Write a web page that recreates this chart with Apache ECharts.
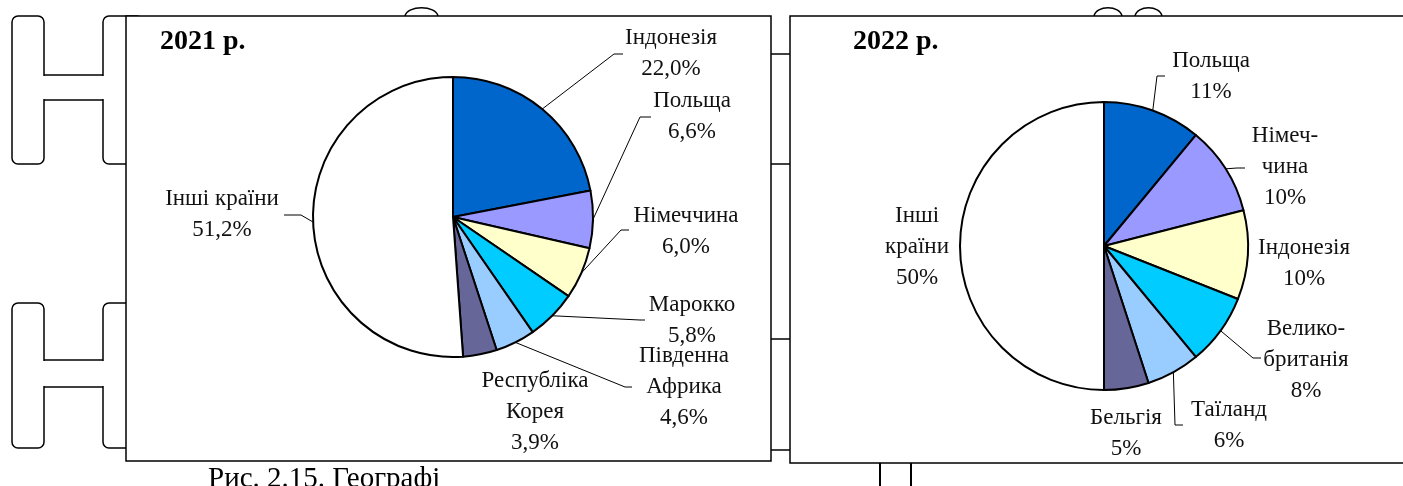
<!DOCTYPE html>
<html>
<head>
<meta charset="utf-8">
<script src="https://cdn.jsdelivr.net/npm/echarts@6/dist/echarts.min.js"></script>
<style>
  html, body { margin: 0; padding: 0; background: #fff; }
  #chart { width: 1403px; height: 486px; }
</style>
</head>
<body>
<div id="chart"></div>
<script>
// 2021 shares
const names2021 = ["Індонезія", "Польща", "Німеччина", "Марокко", "Південна\nАфрика", "Республіка\nКорея", "Інші країни"];
const values2021 = [22.0, 6.6, 6.0, 5.8, 4.6, 3.9, 51.2];

// 2022 shares
const names2022 = ["Польща", "Німеч-\nчина", "Індонезія", "Велико-\nбританія", "Таїланд", "Бельгія", "Інші\nкраїни"];
const values2022 = [11, 10, 10, 8, 6, 5, 50];

const sliceColors = ["#0066CC", "#9999FF", "#FFFFCC", "#00CCFF", "#99CCFF", "#666699", "#FFFFFF"];

// label centres and leader line (elbow, end) per slice
const labelPos2021 = [[671, 53], [692, 116], [686, 231], [692, 320], [684, 387], [535, 412], [222, 214]];
const leader2021 = [
  [[614, 54], [623, 54]],
  [[640, 117], [651, 117]],
  [[621, 230], [629, 230]],
  [[640, 320], [645, 320]],
  [[625, 387], [632, 387]],
  null,
  [[301, 215], [284, 215]],
];
const labelPos2022 = [[1211, 76], [1285, 167], [1304, 263], [1306, 360], [1229, 425], [1126, 433], [917, 247]];
const leader2022 = [
  [[1157, 76], [1165, 76]],
  [[1237, 168], [1245, 168]],
  null,
  [[1253, 358], [1261, 358]],
  [[1175, 425], [1183, 425]],
  null,
  null,
];

const chart = echarts.init(document.getElementById("chart"));

function edgePoint(values, i, cx, cy, r) {
  const total = values.reduce((a, b) => a + b, 0);
  let before = 0;
  for (let k = 0; k < i; k++) before += values[k];
  const a = ((before + values[i] / 2) / total) * Math.PI * 2;
  return [cx + r * Math.sin(a), cy - r * Math.cos(a)];
}

function makeLayout(values, pos, leaders, cx, cy, r) {
  return (params) => {
    const i = params.dataIndex;
    const out = { x: pos[i][0], y: pos[i][1], align: "center", verticalAlign: "middle" };
    if (leaders[i]) {
      const p0 = edgePoint(values, i, cx, cy, r);
      out.labelLinePoints = [p0, leaders[i][0], leaders[i][1]];
    }
    return out;
  };
}

function pieSeries(names, values, pos, leaders, cx, cy, r, fmt) {
  return {
    type: "pie",
    z: 10,
    center: [cx, cy],
    radius: r,
    startAngle: 90,
    clockwise: true,
    avoidLabelOverlap: false,
    silent: true,
    itemStyle: { borderColor: "#000", borderWidth: 2 },
    label: {
      show: true,
      position: "outside",
      formatter: fmt,
      color: "#111",
      fontFamily: "Liberation Serif",
      fontSize: 23,
      lineHeight: 31,
      align: "center",
    },
    labelLine: { show: true, length: 10, length2: 10, lineStyle: { color: "#000", width: 1 } },
    labelLayout: makeLayout(values, pos, leaders, cx, cy, r),
    data: names.map((n, i) => ({
      name: n,
      value: values[i],
      itemStyle: { color: sliceColors[i] },
      labelLine: { show: leaders[i] != null },
    })),
  };
}

const edge = { stroke: "#000", lineWidth: 1.5, fill: null };

function hShape(top, bottom, bar1, bar2) {
  return [
    { type: "rect", z: 0, z2: 1, shape: { x: 12, y: top, width: 32, height: bottom - top, r: 6 }, style: { ...edge, fill: "#fff" } },
    { type: "rect", z: 0, z2: 1, shape: { x: 103, y: top, width: 40, height: bottom - top, r: 6 }, style: { ...edge, fill: "#fff" } },
    { type: "rect", z: 0, z2: 2, shape: { x: 43, y: bar1 + 1, width: 61, height: bar2 - bar1 - 2 }, style: { fill: "#fff" } },
    { type: "line", z: 0, z2: 3, shape: { x1: 44, y1: bar1, x2: 103, y2: bar1 }, style: edge },
    { type: "line", z: 0, z2: 3, shape: { x1: 44, y1: bar2, x2: 103, y2: bar2 }, style: edge },
  ];
}

function bump(x1, x2) {
  return {
    type: "bezierCurve", z: 0,
    shape: { x1: x1, y1: 16, cpx1: x1 + 2, cpy1: 5, cpx2: x2 - 2, cpy2: 5, x2: x2, y2: 16 },
    style: edge,
  };
}

const gapLines = [54, 164, 339, 450].map((y) => ({
  type: "line", z: 0, shape: { x1: 771, y1: y, x2: 790, y2: y }, style: edge,
}));

const graphics = [
  ...hShape(16, 164, 75, 100),
  ...hShape(303, 448, 360, 387),
  bump(405, 438),
  bump(1094, 1122),
  bump(1135, 1162),
  ...gapLines,
  { type: "line", z: 0, shape: { x1: 880, y1: 463, x2: 880, y2: 490 }, style: { stroke: "#000", lineWidth: 2 } },
  { type: "line", z: 0, shape: { x1: 911, y1: 463, x2: 911, y2: 490 }, style: { stroke: "#000", lineWidth: 2 } },
  { type: "rect", z: 1, shape: { x: 126, y: 16, width: 645, height: 445 }, style: { ...edge, fill: "#fff" } },
  { type: "rect", z: 1, shape: { x: 790, y: 16, width: 640, height: 447 }, style: { ...edge, fill: "#fff" } },
  {
    type: "text", z: 3, x: 160, y: 42,
    style: { text: "2021 р.", fill: "#000", fontFamily: "Liberation Serif", fontWeight: "bold", fontSize: 28, verticalAlign: "middle" },
  },
  {
    type: "text", z: 3, x: 853, y: 42,
    style: { text: "2022 р.", fill: "#000", fontFamily: "Liberation Serif", fontWeight: "bold", fontSize: 28, verticalAlign: "middle" },
  },
  {
    type: "text", z: 3, x: 208, y: 479,
    style: { text: "Рис. 2.15. Географі", fill: "#000", fontFamily: "Liberation Serif", fontSize: 29, verticalAlign: "middle" },
  },
];

chart.setOption({
  animation: false,
  backgroundColor: "#fff",
  graphic: graphics,
  series: [
    pieSeries(names2021, values2021, labelPos2021, leader2021, 453, 217, 140,
      (p) => p.name + "\n" + p.value.toFixed(1).replace(".", ",") + "%"),
    pieSeries(names2022, values2022, labelPos2022, leader2022, 1104, 246, 144,
      (p) => p.name + "\n" + p.value + "%"),
  ],
});
</script>
</body>
</html>
